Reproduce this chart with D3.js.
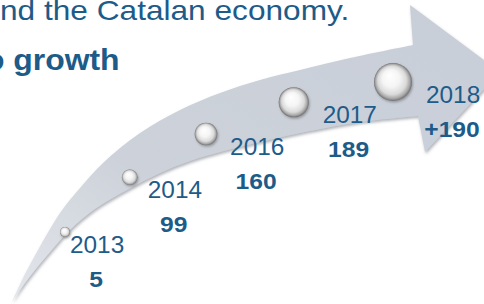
<!DOCTYPE html>
<html>
<head>
<meta charset="utf-8">
<script src="https://cdn.jsdelivr.net/npm/d3@7"></script>
<style>
  body { margin: 0; background: #fff; }
  text { font-family: "Liberation Sans", Arial, sans-serif; }
</style>
</head>
<body>
<div id="chart"></div>
<script>
// Data
const years = ['2013', '2014', '2016', '2017', '2018']
const values = [5, 99, 160, 189, 190]
const titleLines = ['nd the Catalan economy.', 'o growth']

function draw() {
  const width = 484, height = 304
  const blue = '#1d5b89'

  const svg = d3.select('#chart')
    .append('svg')
    .attr('width', width)
    .attr('height', height)

  const defs = svg.append('defs')

  const bandGrad = defs.append('linearGradient')
    .attr('id', 'band')
    .attr('x1', '0%').attr('y1', '100%')
    .attr('x2', '100%').attr('y2', '0%')
  bandGrad.append('stop').attr('offset', '0%').attr('stop-color', '#e3e6eb')
  bandGrad.append('stop').attr('offset', '35%').attr('stop-color', '#cdd2da')
  bandGrad.append('stop').attr('offset', '100%').attr('stop-color', '#c8ced8')

  const ballGrad = defs.append('radialGradient')
    .attr('id', 'ball')
    .attr('cx', '50%').attr('cy', '50%').attr('r', '50%')
    .attr('fx', '40%').attr('fy', '32%')
  ;[[0, '#ffffff'], [0.45, '#f5f5f5'], [0.75, '#dadada'], [0.9, '#a9a9a9'], [1, '#707070']]
    .forEach(s => ballGrad.append('stop').attr('offset', s[0]).attr('stop-color', s[1]))

  const shadow = defs.append('filter').attr('id', 'shadow')
    .attr('x', '-10%').attr('y', '-10%').attr('width', '130%').attr('height', '130%')
  shadow.append('feDropShadow')
    .attr('dx', 1).attr('dy', 2).attr('stdDeviation', 1.5)
    .attr('flood-color', '#6f7680').attr('flood-opacity', 0.55)

  const ballShadow = defs.append('filter').attr('id', 'ballShadow')
    .attr('x', '-40%').attr('y', '-40%').attr('width', '180%').attr('height', '180%')
  ballShadow.append('feDropShadow')
    .attr('dx', 1).attr('dy', 1.5).attr('stdDeviation', 1.2)
    .attr('flood-color', '#555').attr('flood-opacity', 0.45)

  // Curved arrow
  const upper = [[12, 302], [22, 280], [38, 250], [60, 213], [80, 188], [103, 163],
    [140, 133], [180, 110], [220, 93], [260, 80], [300, 70], [350, 58], [413, 45]]
  const lower = [[418, 116], [360, 122], [300, 133], [260, 142], [220, 152], [190, 161],
    [160, 173], [127, 190], [95, 209], [70, 230], [45, 258], [25, 283], [12, 302]]
  const head = [[410, 5], [500, 72], [425, 152], [418, 116]]

  const edge = d3.line().curve(d3.curveCatmullRom)
  const arrowPath = edge(upper) +
    head.map(p => `L${p[0]},${p[1]}`).join('') +
    edge(lower).replace(/^M/, 'L') + 'Z'

  svg.append('path')
    .attr('d', arrowPath)
    .attr('fill', 'url(#band)')
    .attr('filter', 'url(#shadow)')

  // Ball track (quadratic curve) and scales
  const p0 = [65, 232], pc = [183, 111], p2 = [393, 82]
  const bez = t => [0, 1].map(k =>
    (1 - t) * (1 - t) * p0[k] + 2 * t * (1 - t) * pc[k] + t * t * p2[k])

  const tScale = d3.scalePoint().domain(years).range([0, 1])
  const rScale = d3.scalePow().exponent(1.15).domain([0, 1]).range([5, 19])
  const offScale = d3.scalePow().exponent(0.55).domain([0, 1]).range([5, 33])

  const points = years.map((y, i) => {
    const t = tScale(y)
    const [cx, cy] = bez(t)
    return { year: y, value: values[i], cx, cy, r: rScale(t), off: offScale(t),
      last: i === years.length - 1 }
  })

  svg.append('g')
    .selectAll('circle')
    .data(points)
    .join('circle')
    .attr('cx', d => d.cx)
    .attr('cy', d => d.cy)
    .attr('r', d => d.r)
    .attr('fill', 'url(#ball)')
    .attr('filter', 'url(#ballShadow)')

  // Labels
  const labels = svg.append('g')
    .selectAll('g')
    .data(points)
    .join('g')
    .attr('transform', d => `translate(${d.cx + d.off}, ${d.cy + 21})`)

  labels.append('text')
    .attr('transform', 'scale(1.06,1)')
    .attr('font-size', 23)
    .attr('fill', blue)
    .text(d => d.year)

  labels.append('text')
    .attr('transform', 'translate(26,34) scale(1.12,1)')
    .attr('text-anchor', 'middle')
    .attr('font-size', 22)
    .attr('font-weight', 'bold')
    .attr('fill', blue)
    .text(d => (d.last ? '+' : '') + d.value)

  // Title fragments
  svg.append('text')
    .attr('transform', 'translate(0,20) scale(1.13,1)')
    .attr('font-size', 28)
    .attr('fill', blue)
    .text(titleLines[0])

  svg.append('text')
    .attr('transform', 'translate(-15,70) scale(1.1,1)')
    .attr('font-size', 29)
    .attr('font-weight', 'bold')
    .attr('fill', blue)
    .text(titleLines[1])
}

draw()
</script>
</body>
</html>
